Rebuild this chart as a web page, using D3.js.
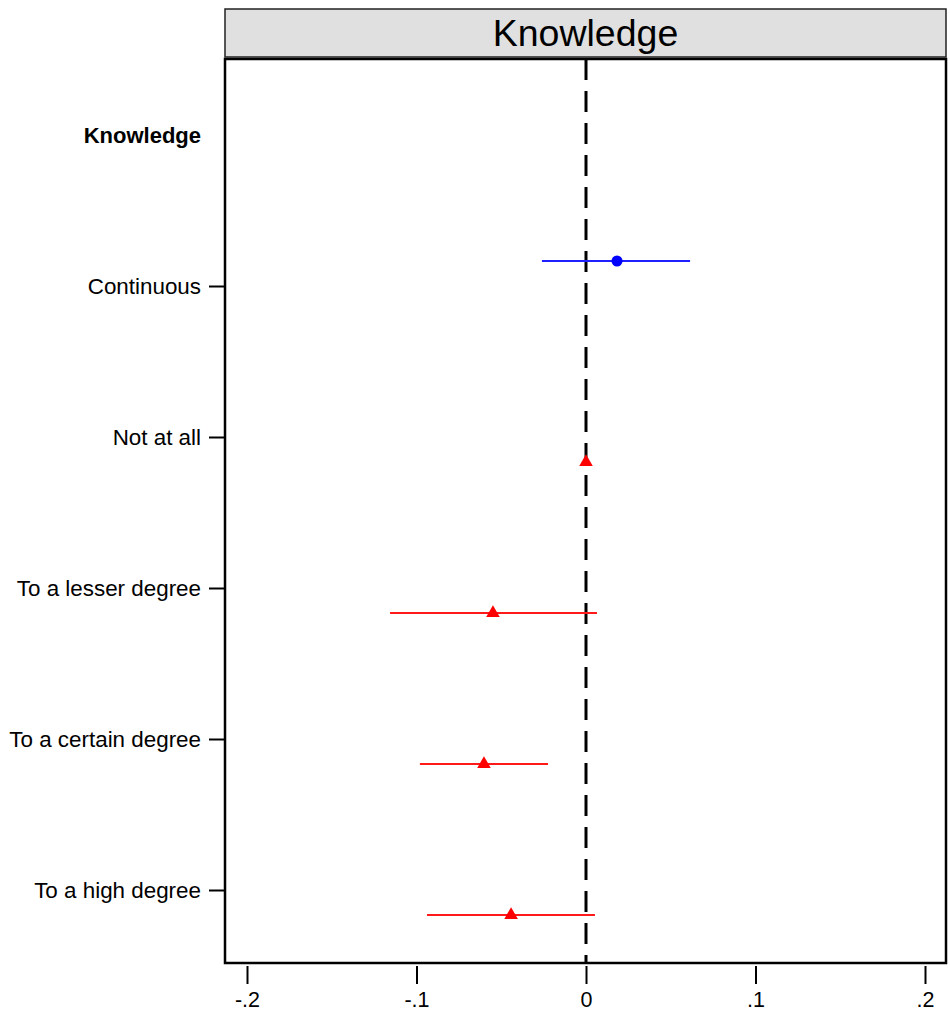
<!DOCTYPE html>
<html>
<head>
<meta charset="utf-8">
<script src="https://cdn.jsdelivr.net/npm/d3@7"></script>
<style>
  body { margin: 0; background: #fff; }
  text { font-family: "Liberation Sans", Arial, sans-serif; }
</style>
</head>
<body>
<div id="chart"></div>
<script>
// rows on the y axis (first one is the group header)
const rows = ["Knowledge", "Continuous", "Not at all", "To a lesser degree", "To a certain degree", "To a high degree"];

// continuous model (blue)
const contRows = ["Continuous"];
const contEst = [0.0183];
const contLo = [-0.026];
const contHi = [0.0614];

// categorical model (red), "Not at all" is the reference
const catRows = ["Not at all", "To a lesser degree", "To a certain degree", "To a high degree"];
const catEst = [0, -0.0549, -0.0602, -0.0442];
const catLo = [null, -0.1156, -0.098, -0.0938];
const catHi = [null, 0.0065, -0.0224, 0.0053];

const xTicks = [-0.2, -0.1, 0, 0.1, 0.2];
const panelTitle = "Knowledge";

const W = 950, H = 1014;
const box = { left: 225, right: 946, top: 59, bottom: 963 };

const svg = d3.select("#chart").append("svg")
    .attr("width", W)
    .attr("height", H);

// scales
const x = d3.scaleLinear().domain([-0.2, 0.2]).range([247, 925]);
const y = d3.scalePoint().domain(rows).range([135, 890]);

// header strip
svg.append("rect")
    .attr("x", box.left)
    .attr("y", 9)
    .attr("width", box.right - box.left)
    .attr("height", 48)
    .attr("fill", "#e0e0e0")
    .attr("stroke", "#222")
    .attr("stroke-width", 1.5);

svg.append("text")
    .attr("x", (box.left + box.right) / 2)
    .attr("y", 46)
    .attr("text-anchor", "middle")
    .style("font-size", "37.5px")
    .text(panelTitle);

// zero reference line
svg.append("line")
    .attr("x1", x(0)).attr("x2", x(0))
    .attr("y1", box.top).attr("y2", box.bottom)
    .attr("stroke", "#000")
    .attr("stroke-width", 3)
    .attr("stroke-dasharray", "21,11");

// helper to make estimate rows
function makeRows(cats, est, lo, hi) {
    return cats.map((c, i) => ({ cat: c, est: est[i], lo: lo[i], hi: hi[i] }));
}

const contData = makeRows(contRows, contEst, contLo, contHi);
const catData = makeRows(catRows, catEst, catLo, catHi);

const offCont = -25, offCat = 25;

// CI lines
svg.append("g")
    .selectAll("line")
    .data(contData)
    .join("line")
    .attr("x1", d => x(d.lo))
    .attr("x2", d => x(d.hi))
    .attr("y1", d => y(d.cat) + offCont)
    .attr("y2", d => y(d.cat) + offCont)
    .attr("stroke", "#1f1fff")
    .attr("stroke-width", 2.2);

svg.append("g")
    .selectAll("line")
    .data(catData.filter(d => d.lo !== null))
    .join("line")
    .attr("x1", d => x(d.lo))
    .attr("x2", d => x(d.hi))
    .attr("y1", d => y(d.cat) + offCat)
    .attr("y2", d => y(d.cat) + offCat)
    .attr("stroke", "#ff1a1a")
    .attr("stroke-width", 2.2);

// point estimates
svg.append("g")
    .selectAll("circle")
    .data(contData)
    .join("circle")
    .attr("cx", d => x(d.est))
    .attr("cy", d => y(d.cat) + offCont)
    .attr("r", 5.5)
    .attr("fill", "#0000ff");

const tri = d3.symbol().type(d3.symbolTriangle).size(80);
svg.append("g")
    .selectAll("path")
    .data(catData)
    .join("path")
    .attr("d", tri)
    .attr("transform", d => `translate(${x(d.est)},${y(d.cat) + offCat})`)
    .attr("fill", "#ff0000");

// plot frame
svg.append("rect")
    .attr("x", box.left)
    .attr("y", box.top)
    .attr("width", box.right - box.left)
    .attr("height", box.bottom - box.top)
    .attr("fill", "none")
    .attr("stroke", "#000")
    .attr("stroke-width", 2.5);

// y axis
const yAxis = svg.append("g")
    .attr("transform", `translate(${box.left},0)`)
    .call(d3.axisLeft(y).tickSize(16).tickPadding(8));
yAxis.select(".domain").remove();
yAxis.selectAll(".tick line").attr("stroke", "#000").attr("stroke-width", 2);
yAxis.selectAll(".tick text")
    .attr("fill", "#000")
    .style("font-size", "22.4px")
    .style("font-family", "'Liberation Sans', Arial, sans-serif");
yAxis.selectAll(".tick").filter(d => d === rows[0])
    .call(t => t.select("line").remove())
    .select("text")
    .style("font-weight", "bold")
    .style("font-size", "22px");

// x axis, Stata style labels: -.2, -.1, 0, .1, .2
const fmt = v => v === 0 ? "0" : (v < 0 ? "-" : "") + Math.abs(v).toFixed(1).replace("0.", ".");
const xAxis = svg.append("g")
    .attr("transform", `translate(0,${box.bottom + 3})`)
    .call(d3.axisBottom(x).tickValues(xTicks).tickFormat(fmt).tickSize(18).tickPadding(8));
xAxis.select(".domain").remove();
xAxis.selectAll(".tick line").attr("stroke", "#000").attr("stroke-width", 2);
xAxis.selectAll(".tick text")
    .attr("fill", "#000")
    .style("font-size", "21.5px")
    .style("font-family", "'Liberation Sans', Arial, sans-serif");
</script>
</body>
</html>
